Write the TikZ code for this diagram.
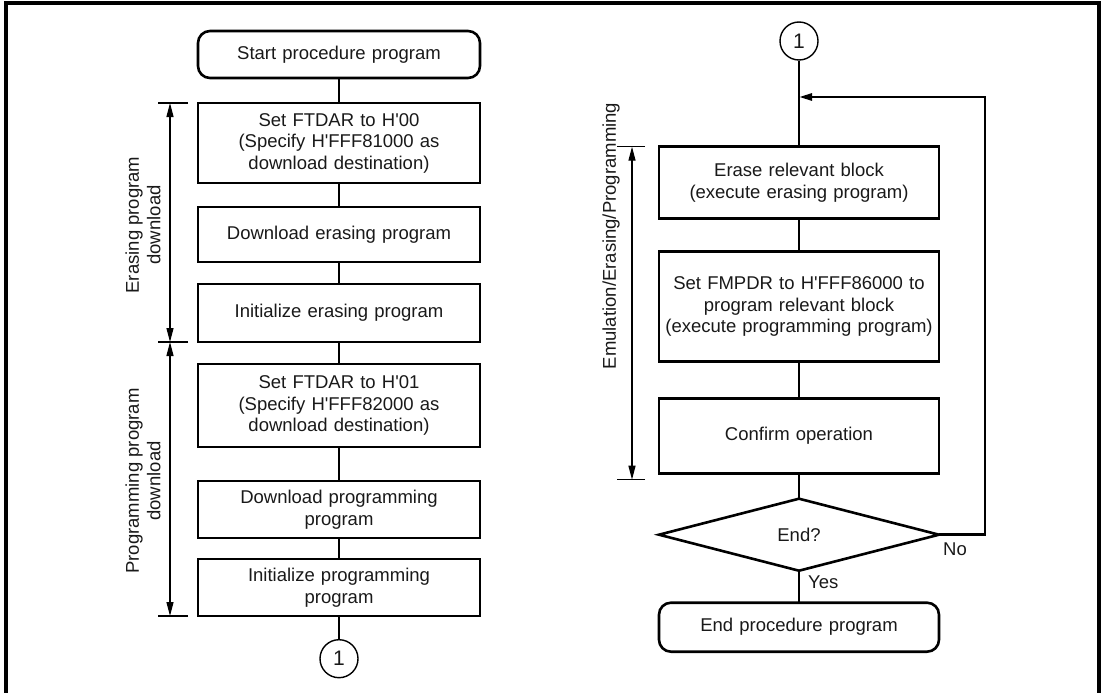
\documentclass[tikz,border=0pt]{standalone}
\usepackage{fontspec}
\setmainfont{Liberation Sans}
\usetikzlibrary{shapes.geometric, arrows.meta, positioning}
\newcommand{\hq}{H\textquotesingle}

\begin{document}
\begin{tikzpicture}[
    x=1pt, y=1pt,
    font=\fontsize{18.5}{21.5}\selectfont,
    text=black!90,
    box/.style={rectangle, draw, line width=2.6pt, minimum width=282pt, text width=278pt, align=center, inner sep=0pt, outer sep=0pt},
    term/.style={box, rounded corners=12pt},
    decide/.style={diamond, draw, line width=2.6pt, minimum width=280pt, minimum height=72pt, inner sep=0pt, outer sep=0pt},
    conn/.style={circle, draw, line width=1.4pt, minimum size=38pt, inner sep=0pt, font=\fontsize{21}{24}\selectfont},
    line/.style={line width=1.3pt},
    dim/.style={line width=1.3pt, {Triangle[length=14pt,width=7pt]}-{Triangle[length=14pt,width=7pt]}},
    loop/.style={line width=2.6pt, -{Triangle[length=13pt,width=7pt]}},
    tag/.style={rotate=90, align=center, inner sep=0pt},
    lbl/.style={inner sep=0pt}
]
\useasboundingbox (0,0) rectangle (1104,-693);
\draw[line width=4pt] (6,-693) -- (6,-3) -- (1099,-3) -- (1099,-693);

% left column: download
\node[term, minimum height=47pt] (start) at (339,-54.5) {Start procedure program};
\node[box, minimum height=80pt, below=25pt of start] (setE) {Set FTDAR to \hq00\\(Specify \hq FFF81000 as\\download destination)};
\node[box, minimum height=55pt, below=24pt of setE] (dlE) {Download erasing program};
\node[box, minimum height=58pt, below=22pt of dlE] (initE) {Initialize erasing program};
\node[box, minimum height=83pt, below=22pt of initE] (setP) {Set FTDAR to \hq01\\(Specify \hq FFF82000 as\\download destination)};
\node[box, minimum height=57pt, below=34pt of setP] (dlP) {Download programming\\program};
\node[box, minimum height=57pt, below=21pt of dlP] (initP) {Initialize programming\\program};
\node[conn, below=23pt of initP] (outA) {1};

\draw[line] (start) -- (setE);
\draw[line] (setE) -- (dlE);
\draw[line] (dlE) -- (initE);
\draw[line] (initE) -- (setP);
\draw[line] (setP) -- (dlP);
\draw[line] (dlP) -- (initP);
\draw[line] (initP) -- (outA);

% left dimensions
\draw[line] ([xshift=-10pt]setE.north west) -- ++(-30,0);
\draw[line] ([xshift=-10pt]initE.south west) -- ++(-30,0);
\draw[line] ([xshift=-10pt]initP.south west) -- ++(-30,0);
\draw[dim] ([xshift=-28pt]setE.north west) -- ([xshift=-28pt]initE.south west);
\draw[dim] ([xshift=-28pt]initE.south west) -- ([xshift=-28pt]initP.south west);
\node[tag] (eraseTag) at (143,-225) {Erasing program\\download};
\node[tag] (progTag) at (143,-481) {Programming program\\download};

% right column: erase / program loop
\node[conn] (inA) at (799,-41) {1};
\node[box, minimum width=280pt, minimum height=72pt, below=86pt of inA] (erase) {Erase relevant block\\(execute erasing program)};
\node[box, minimum width=280pt, minimum height=110pt, below=33pt of erase] (prog) {Set FMPDR to \hq FFF86000 to\\program relevant block\\(execute programming program)};
\node[box, minimum width=280pt, minimum height=75pt, below=37pt of prog] (check) {Confirm operation};
\node[decide, below=25pt of check] (done) {End?};
\node[term, minimum width=280pt, minimum height=49pt, below=32pt of done] (finish) {End procedure program};
\coordinate (merge) at ([yshift=-56pt]inA.center);

\draw[line] (inA) -- (erase);
\draw[line] (erase) -- (prog);
\draw[line] (prog) -- (check);
\draw[line] (check) -- (done);
\draw[line] (done) -- (finish);
\draw[loop] (done.east) -- ++(46,0) |- (merge);
\node[lbl, anchor=north west] (yes) at ([xshift=9pt,yshift=-5pt]done.south) {Yes};
\node[lbl, anchor=north west] (no) at ([xshift=4pt,yshift=-8pt]done.east) {No};

% right dimension
\draw[line] ([xshift=-14pt]erase.north west) -- ++(-28,0);
\draw[line] ([xshift=-14pt,yshift=-6pt]check.south west) -- ++(-28,0);
\draw[dim] ([xshift=-27pt]erase.north west) -- ([xshift=-27pt,yshift=-6pt]check.south west);
\node[tag] (loopTag) at (611,-236) {Emulation/Erasing/Programming};
\end{tikzpicture}
\end{document}
